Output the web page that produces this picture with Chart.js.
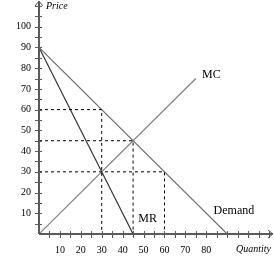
<html>
<head>
    <title>Monopoly MR MC</title>
    <script src="https://cdn.jsdelivr.net/npm/chart.js"></script>
    <style>
        body { margin: 0; background: white; }
        #wrap { width: 274px; height: 274px; }
    </style>
</head>
<body>
    <div id="wrap">
        <canvas id="myChart" width="274" height="274"></canvas>
    </div>

    <script>
        // curves (quantity, price)
        const demandQ = [0, 90];
        const demandP = [90, 0];
        const mrQ = [0, 45];
        const mrP = [90, 0];
        const mcQ = [0, 75];
        const mcP = [0, 75];

        // dashed guide lines: price level -> quantity
        const guidePrices = [60, 45, 30];
        const guideQuantities = [30, 45, 60];

        const yTickLabels = [10, 20, 30, 40, 50, 60, 70, 80, 90, 100];
        const xTickLabels = [10, 20, 30, 40, 50, 60, 70, 80];

        const serif = "'Liberation Serif', 'Times New Roman', serif";
        const axisColor = '#5a5a5a';

        function pts(xs, ys) {
            return xs.map((x, i) => ({ x: x, y: ys[i] }));
        }

        const datasets = [];
        guidePrices.forEach((p, i) => {
            const q = guideQuantities[i];
            datasets.push({
                data: [{ x: 0, y: p }, { x: q, y: p }, { x: q, y: 0 }],
                borderColor: '#000',
                borderWidth: 1,
                borderDash: [3, 3],
                pointRadius: 0,
                showLine: true
            });
        });
        datasets.push({ data: pts(demandQ, demandP), borderColor: '#707070', borderWidth: 1.2, pointRadius: 0, showLine: true });
        datasets.push({ data: pts(mcQ, mcP), borderColor: '#808080', borderWidth: 1.2, pointRadius: 0, showLine: true });
        datasets.push({ data: pts(mrQ, mrP), borderColor: '#333', borderWidth: 1.2, pointRadius: 0, showLine: true });

        const curveLabels = [
            { text: 'MC', x: 78, y: 77 },
            { text: 'MR', x: 47.5, y: 7.5 },
            { text: 'Demand', x: 83.5, y: 11 }
        ];

        const decor = {
            id: 'decor',
            afterDatasetsDraw(chart) {
                const ctx = chart.ctx;
                const xs = chart.scales.x, ys = chart.scales.y;
                const x0 = xs.getPixelForValue(0), y0 = ys.getPixelForValue(0);
                ctx.save();
                ctx.strokeStyle = axisColor;
                ctx.lineWidth = 1;
                // ticks every 5, crossing the axis
                for (let v = 5; v <= 110; v += 5) {
                    const py = Math.round(ys.getPixelForValue(v)) + 0.5;
                    ctx.beginPath(); ctx.moveTo(x0 - 4, py); ctx.lineTo(x0 + 3, py); ctx.stroke();
                    const px = Math.round(xs.getPixelForValue(v)) + 0.5;
                    ctx.beginPath(); ctx.moveTo(px, y0 - 3); ctx.lineTo(px, y0 + 4); ctx.stroke();
                }
                // axes with arrows
                ctx.lineWidth = 2;
                ctx.beginPath(); ctx.moveTo(x0, y0); ctx.lineTo(x0, 2); ctx.stroke();
                ctx.beginPath(); ctx.moveTo(x0, y0); ctx.lineTo(272, y0); ctx.stroke();
                ctx.lineWidth = 1;
                ctx.beginPath(); ctx.moveTo(x0 - 4, 6); ctx.lineTo(x0, 1); ctx.lineTo(x0 + 4, 6); ctx.stroke();
                ctx.beginPath(); ctx.moveTo(268, y0 - 4); ctx.lineTo(273, y0); ctx.lineTo(268, y0 + 4); ctx.stroke();

                // axis titles
                ctx.fillStyle = '#000';
                ctx.font = 'italic 10px ' + serif;
                ctx.textBaseline = 'middle';
                ctx.textAlign = 'left';
                ctx.fillText('Price', x0 + 7, 6);
                ctx.fillText('Quantity', 236, y0 + 15);

                // curve labels
                ctx.font = '12px ' + serif;
                curveLabels.forEach(l => {
                    ctx.fillText(l.text, xs.getPixelForValue(l.x), ys.getPixelForValue(l.y));
                });
                ctx.restore();
            }
        };

        const config = {
            type: 'scatter',
            data: { datasets: datasets },
            options: {
                responsive: false,
                animation: false,
                layout: { padding: { top: 6, right: 5, left: 0, bottom: 0 } },
                plugins: { legend: { display: false }, tooltip: { enabled: false } },
                scales: {
                    x: {
                        type: 'linear', min: 0, max: 110,
                        afterFit: (s) => { s.height = 40; s.paddingLeft = 0; s.paddingRight = 0; },
                        grid: { display: false, drawTicks: false },
                        border: { display: false },
                        afterBuildTicks: (s) => { s.ticks = xTickLabels.map(v => ({ value: v })); },
                        ticks: { padding: 10, maxRotation: 0, autoSkip: false, color: '#000', font: { family: serif, size: 10 } }
                    },
                    y: {
                        type: 'linear', min: 0, max: 110,
                        afterFit: (s) => { s.width = 39; s.paddingTop = 0; s.paddingBottom = 0; },
                        grid: { display: false, drawTicks: false },
                        border: { display: false },
                        afterBuildTicks: (s) => { s.ticks = yTickLabels.map(v => ({ value: v })); },
                        ticks: { padding: 8, autoSkip: false, color: '#000', font: { family: serif, size: 10 } }
                    }
                }
            },
            plugins: [decor]
        };

        const myChart = new Chart(document.getElementById('myChart'), config);
    </script>
</body>
</html>
